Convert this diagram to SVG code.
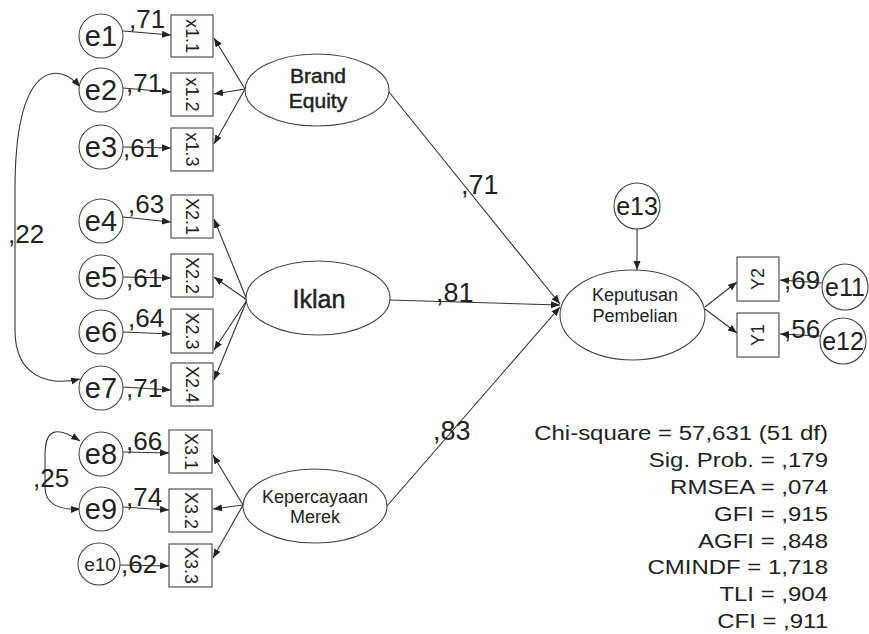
<svg xmlns="http://www.w3.org/2000/svg" width="869" height="634" viewBox="0 0 869 634">
<style>
.ln{stroke:#333;stroke-width:1.1;fill:none}
.nd{stroke:#444;stroke-width:1.1;fill:#fff}
.t{font-family:"Liberation Sans",Arial,sans-serif;fill:#222}
.e{font-size:29px}
.lb{font-size:26px}
.bx{font-size:18px}
.st{font-size:20.5px}
.hv{stroke:#222;stroke-width:0.5}
</style>
<defs>
<marker id="a" markerUnits="userSpaceOnUse" markerWidth="10" markerHeight="8" refX="9" refY="3.5" orient="auto-start-reverse">
<path d="M0,0 L9,3.5 L0,7 z" fill="#222"/>
</marker>
</defs>
<rect width="869" height="634" fill="#fff"/>

<g id="connectors">
<line class="ln" x1="123" y1="31" x2="171" y2="35" marker-end="url(#a)"/>
<line class="ln" x1="123" y1="88" x2="171" y2="92" marker-end="url(#a)"/>
<line class="ln" x1="123" y1="147" x2="171" y2="148" marker-end="url(#a)"/>
<line class="ln" x1="123" y1="217" x2="171" y2="222" marker-end="url(#a)"/>
<line class="ln" x1="123" y1="277" x2="171" y2="278" marker-end="url(#a)"/>
<line class="ln" x1="123" y1="332" x2="171" y2="334" marker-end="url(#a)"/>
<line class="ln" x1="123" y1="387" x2="171" y2="390" marker-end="url(#a)"/>
<line class="ln" x1="123" y1="452" x2="169" y2="453" marker-end="url(#a)"/>
<line class="ln" x1="123" y1="507" x2="169" y2="510" marker-end="url(#a)"/>
<line class="ln" x1="120" y1="565" x2="169" y2="566" marker-end="url(#a)"/>
<line class="ln" x1="245" y1="89" x2="214" y2="38" marker-end="url(#a)"/>
<line class="ln" x1="245" y1="89" x2="214" y2="94" marker-end="url(#a)"/>
<line class="ln" x1="245" y1="89" x2="214" y2="144" marker-end="url(#a)"/>
<line class="ln" x1="247" y1="300" x2="214" y2="219" marker-end="url(#a)"/>
<line class="ln" x1="247" y1="300" x2="214" y2="277" marker-end="url(#a)"/>
<line class="ln" x1="247" y1="300" x2="214" y2="350" marker-end="url(#a)"/>
<line class="ln" x1="247" y1="300" x2="214" y2="380" marker-end="url(#a)"/>
<line class="ln" x1="243" y1="505" x2="213" y2="455" marker-end="url(#a)"/>
<line class="ln" x1="243" y1="505" x2="213" y2="509" marker-end="url(#a)"/>
<line class="ln" x1="243" y1="505" x2="213" y2="558" marker-end="url(#a)"/>
<line class="ln" x1="389" y1="92" x2="560" y2="304" marker-end="url(#a)"/>
<line class="ln" x1="390" y1="300" x2="560" y2="305" marker-end="url(#a)"/>
<line class="ln" x1="387" y1="506" x2="560" y2="307" marker-end="url(#a)"/>
<line class="ln" x1="637" y1="229" x2="637" y2="270" marker-end="url(#a)"/>
<line class="ln" x1="705" y1="307" x2="737" y2="282" marker-end="url(#a)"/>
<line class="ln" x1="705" y1="309" x2="737" y2="333" marker-end="url(#a)"/>
<line class="ln" x1="822" y1="283" x2="780" y2="280" marker-end="url(#a)"/>
<line class="ln" x1="820" y1="336" x2="780" y2="334" marker-end="url(#a)"/>
<path class="ln" d="M80,87 C60,62 15,58 15,190 L15,330 C15,378 50,386 80,379" marker-start="url(#a)" marker-end="url(#a)"/>
<path class="ln" d="M80,441 C55,425 45,430 45,455 L45,487 C45,505 60,510 80,509" marker-start="url(#a)" marker-end="url(#a)"/>
</g>

<g id="e1"><circle class="nd" cx="101" cy="36" r="22"/><text class="t e" x="101" y="46" text-anchor="middle">e1</text></g>
<g id="e2"><circle class="nd" cx="101" cy="90" r="22"/><text class="t e" x="101" y="100" text-anchor="middle">e2</text></g>
<g id="e3"><circle class="nd" cx="101" cy="147" r="22"/><text class="t e" x="101" y="157" text-anchor="middle">e3</text></g>
<g id="e4"><circle class="nd" cx="101" cy="221" r="22"/><text class="t e" x="101" y="231" text-anchor="middle">e4</text></g>
<g id="e5"><circle class="nd" cx="101" cy="277" r="22"/><text class="t e" x="101" y="287" text-anchor="middle">e5</text></g>
<g id="e6"><circle class="nd" cx="101" cy="332" r="22"/><text class="t e" x="101" y="342" text-anchor="middle">e6</text></g>
<g id="e7"><circle class="nd" cx="101" cy="388" r="22"/><text class="t e" x="101" y="398" text-anchor="middle">e7</text></g>
<g id="e8"><circle class="nd" cx="101" cy="454" r="22"/><text class="t e" x="101" y="464" text-anchor="middle">e8</text></g>
<g id="e9"><circle class="nd" cx="101" cy="509" r="22"/><text class="t e" x="101" y="519" text-anchor="middle">e9</text></g>
<g id="e10"><circle class="nd" cx="99" cy="564" r="21"/><text class="t" font-size="19" x="100" y="571" text-anchor="middle">e10</text></g>
<g id="e13"><circle class="nd" cx="637" cy="206" r="23"/><text class="t" font-size="25" x="637" y="215" text-anchor="middle">e13</text></g>
<g id="e11"><circle class="nd" cx="845" cy="287" r="23"/><text class="t" font-size="25" x="845" y="296" text-anchor="middle">e11</text></g>
<g id="e12"><circle class="nd" cx="843" cy="341" r="23"/><text class="t" font-size="25" x="843" y="350" text-anchor="middle">e12</text></g>

<g id="x11"><rect class="nd" x="171" y="15" width="42" height="42"/><text class="t bx" transform="translate(192,36) rotate(90)" y="6" text-anchor="middle">x1.1</text></g>
<g id="x12"><rect class="nd" x="171" y="73" width="42" height="43"/><text class="t bx" transform="translate(192,94.5) rotate(90)" y="6" text-anchor="middle">x1.2</text></g>
<g id="x13"><rect class="nd" x="171" y="128" width="42" height="43"/><text class="t bx" transform="translate(192,149.5) rotate(90)" y="6" text-anchor="middle">x1.3</text></g>
<g id="x21"><rect class="nd" x="171" y="195" width="42" height="43"/><text class="t bx" transform="translate(192,216.5) rotate(90)" y="6" text-anchor="middle">X2.1</text></g>
<g id="x22"><rect class="nd" x="171" y="254" width="42" height="43"/><text class="t bx" transform="translate(192,275.5) rotate(90)" y="6" text-anchor="middle">X2.2</text></g>
<g id="x23"><rect class="nd" x="171" y="309" width="42" height="44"/><text class="t bx" transform="translate(192,331) rotate(90)" y="6" text-anchor="middle">X2.3</text></g>
<g id="x24"><rect class="nd" x="171" y="363" width="42" height="43"/><text class="t bx" transform="translate(192,384.5) rotate(90)" y="6" text-anchor="middle">X2.4</text></g>
<g id="x31"><rect class="nd" x="169" y="430" width="43" height="43"/><text class="t bx" transform="translate(190.5,451.5) rotate(90)" y="6" text-anchor="middle">X3.1</text></g>
<g id="x32"><rect class="nd" x="169" y="489" width="43" height="43"/><text class="t bx" transform="translate(190.5,510.5) rotate(90)" y="6" text-anchor="middle">X3.2</text></g>
<g id="x33"><rect class="nd" x="169" y="544" width="43" height="43"/><text class="t bx" transform="translate(190.5,565.5) rotate(90)" y="6" text-anchor="middle">X3.3</text></g>
<g id="y2"><rect class="nd" x="737" y="257" width="42" height="44"/><text class="t" font-size="18" transform="translate(758,279) rotate(-90)" y="6" text-anchor="middle">Y2</text></g>
<g id="y1"><rect class="nd" x="737" y="313" width="42" height="44"/><text class="t" font-size="18" transform="translate(758,335) rotate(-90)" y="6" text-anchor="middle">Y1</text></g>

<g id="brand"><ellipse class="nd" cx="317" cy="90" rx="72" ry="36"/><text class="t hv" font-size="21" x="318" y="83" text-anchor="middle">Brand</text><text class="t hv" font-size="21" x="318" y="108" text-anchor="middle">Equity</text></g>
<g id="iklan"><ellipse class="nd" cx="318" cy="298" rx="72" ry="37"/><text class="t hv" font-size="25" x="319" y="308" text-anchor="middle">Iklan</text></g>
<g id="kepercayaan"><ellipse class="nd" cx="315" cy="506" rx="72" ry="37"/><text class="t" font-size="18" x="315" y="503" text-anchor="middle">Kepercayaan</text><text class="t" font-size="18" x="315" y="523" text-anchor="middle">Merek</text></g>
<g id="keputusan"><ellipse class="nd" cx="632.5" cy="315" rx="72.5" ry="45"/><text class="t" font-size="18" x="635" y="301" text-anchor="middle">Keputusan</text><text class="t" font-size="18" x="635" y="322" text-anchor="middle">Pembelian</text></g>

<g id="labels" class="t lb">
<text x="129" y="28">,71</text>
<text x="126" y="92">,71</text>
<text x="123" y="157">,61</text>
<text x="128" y="213">,63</text>
<text x="126" y="287">,61</text>
<text x="128" y="327">,64</text>
<text x="126" y="397">,71</text>
<text x="126" y="450">,66</text>
<text x="126" y="506">,74</text>
<text x="121" y="573">,62</text>
<text x="8" y="243">,22</text>
<text x="33" y="487">,25</text>
<text x="784" y="289">,69</text>
<text x="784" y="338">,56</text>
<text x="461" y="194" font-size="27">,71</text>
<text x="436" y="302" font-size="27">,81</text>
<text x="433" y="440" font-size="27">,83</text>
</g>

<g id="stats" class="t st" text-anchor="end">
<text transform="translate(828,440) scale(1.17,1)">Chi-square = 57,631 (51 df)</text>
<text transform="translate(828,467) scale(1.17,1)">Sig. Prob. = ,179</text>
<text transform="translate(828,494) scale(1.17,1)">RMSEA = ,074</text>
<text transform="translate(828,521) scale(1.17,1)">GFI = ,915</text>
<text transform="translate(828,548) scale(1.17,1)">AGFI = ,848</text>
<text transform="translate(828,574) scale(1.17,1)">CMINDF = 1,718</text>
<text transform="translate(828,601) scale(1.17,1)">TLI = ,904</text>
<text transform="translate(828,628) scale(1.17,1)">CFI = ,911</text>
</g>
</svg>
